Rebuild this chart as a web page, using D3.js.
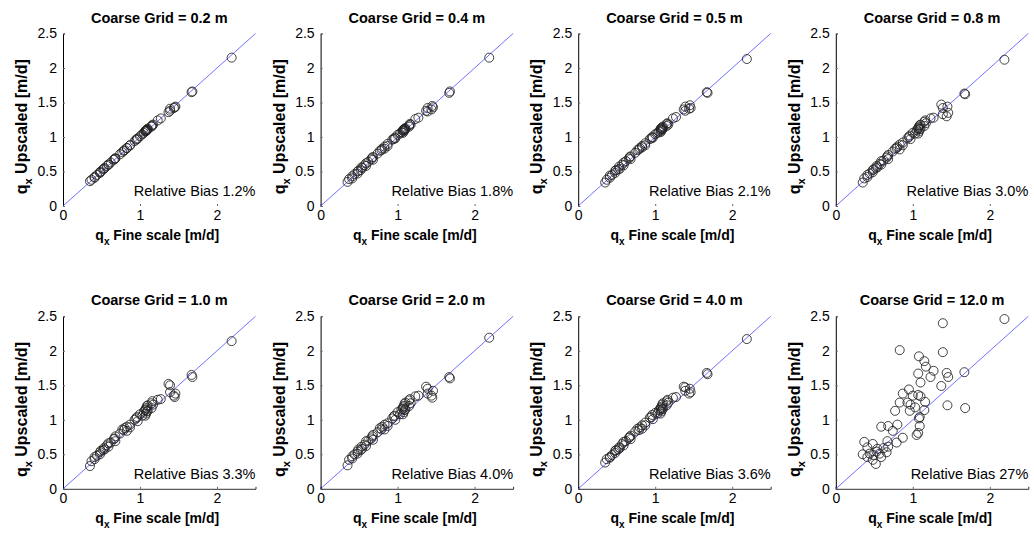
<!DOCTYPE html>
<html>
<head>
<meta charset="utf-8">
<script src="https://cdn.jsdelivr.net/npm/d3@7"></script>
<style>
  body { margin: 0; background: #fff; }
  text { font-family: "Liberation Sans", Arial, sans-serif; fill: #000; }
</style>
</head>
<body>
<svg id="chart" width="1034" height="535"></svg>
<script>
// fine-scale flux (same cells in every panel)
var fineQ = [0.35,0.37,0.41,0.41,0.44,0.48,0.48,0.49,0.52,0.53,0.54,0.57,0.59,0.59,0.62,0.66,0.67,0.68,0.68,0.74,
  0.77,0.79,0.80,0.83,0.83,0.87,0.87,0.93,0.95,0.96,0.97,1.00,1.03,1.05,1.07,1.07,1.07,1.08,1.08,1.09,
  1.09,1.10,1.10,1.15,1.15,1.16,1.17,1.23,1.27,1.37,1.39,1.39,1.44,1.45,1.46,1.67,1.68,2.19];

// upscaled flux for each coarse grid
var up02 = [0.36,0.38,0.42,0.41,0.45,0.49,0.48,0.50,0.53,0.54,0.55,0.58,0.60,0.60,0.63,0.67,0.68,0.69,0.69,0.75,
  0.78,0.80,0.81,0.84,0.84,0.88,0.88,0.94,0.96,0.97,0.98,1.01,1.04,1.06,1.08,1.08,1.09,1.09,1.10,1.10,
  1.11,1.11,1.12,1.15,1.16,1.17,1.18,1.24,1.27,1.36,1.38,1.41,1.42,1.43,1.44,1.65,1.66,2.15];
var up04 = [0.35,0.39,0.43,0.40,0.46,0.50,0.47,0.51,0.52,0.56,0.55,0.59,0.62,0.58,0.64,0.68,0.70,0.67,0.71,0.76,
  0.80,0.81,0.83,0.86,0.83,0.90,0.87,0.96,0.97,0.99,0.98,1.03,1.05,1.07,1.10,1.06,1.09,1.11,1.08,1.12,
  1.10,1.13,1.11,1.17,1.15,1.19,1.18,1.26,1.28,1.38,1.37,1.42,1.40,1.45,1.43,1.64,1.66,2.15];
var up05 = [0.34,0.38,0.44,0.41,0.45,0.51,0.48,0.52,0.53,0.57,0.54,0.60,0.63,0.59,0.65,0.69,0.71,0.68,0.72,0.77,
  0.81,0.82,0.84,0.87,0.85,0.91,0.88,0.97,0.98,1.00,0.99,1.04,1.06,1.08,1.12,1.07,1.10,1.13,1.09,1.14,
  1.11,1.15,1.12,1.19,1.16,1.20,1.18,1.27,1.29,1.40,1.38,1.44,1.41,1.46,1.42,1.65,1.64,2.13];
var up08 = [0.34,0.40,0.45,0.42,0.47,0.52,0.49,0.53,0.55,0.58,0.56,0.61,0.65,0.60,0.66,0.70,0.72,0.68,0.74,0.79,
  0.83,0.84,0.86,0.89,0.82,0.92,0.88,0.98,1.00,1.02,0.97,1.06,1.05,1.10,1.13,1.05,1.12,1.15,1.08,1.17,
  1.11,1.18,1.12,1.22,1.16,1.24,1.20,1.27,1.28,1.47,1.33,1.42,1.30,1.44,1.35,1.63,1.62,2.12];
var up10 = [0.33,0.40,0.46,0.43,0.48,0.53,0.50,0.55,0.56,0.59,0.57,0.63,0.66,0.61,0.67,0.72,0.73,0.69,0.76,0.80,
  0.86,0.85,0.88,0.90,0.84,0.93,0.89,1.00,1.02,1.04,0.98,1.08,1.06,1.12,1.15,1.06,1.14,1.17,1.09,1.20,
  1.12,1.21,1.13,1.24,1.17,1.27,1.22,1.29,1.30,1.52,1.50,1.40,1.35,1.33,1.38,1.65,1.62,2.14];
var up20 = [0.34,0.42,0.47,0.44,0.50,0.54,0.51,0.57,0.56,0.61,0.58,0.64,0.69,0.62,0.70,0.73,0.76,0.71,0.78,0.82,
  0.88,0.86,0.90,0.93,0.86,0.95,0.91,1.02,1.05,1.06,1.00,1.11,1.08,1.15,1.18,1.08,1.16,1.20,1.11,1.23,
  1.14,1.25,1.15,1.28,1.20,1.30,1.24,1.34,1.35,1.48,1.45,1.38,1.35,1.32,1.42,1.62,1.60,2.19];
var up40 = [0.38,0.43,0.46,0.45,0.49,0.55,0.52,0.56,0.57,0.60,0.59,0.65,0.68,0.63,0.69,0.74,0.75,0.72,0.77,0.83,
  0.87,0.85,0.89,0.92,0.87,0.96,0.92,1.03,1.04,1.07,1.01,1.10,1.09,1.14,1.17,1.09,1.15,1.19,1.12,1.22,
  1.15,1.24,1.16,1.27,1.21,1.29,1.25,1.32,1.33,1.48,1.47,1.42,1.38,1.45,1.40,1.68,1.66,2.17];
var up120 = [0.50,0.68,0.60,0.46,0.51,0.65,0.42,0.49,0.36,0.54,0.58,0.51,0.90,0.46,0.59,0.53,0.69,0.91,0.61,0.84,
  1.13,0.67,0.93,2.01,1.25,1.38,0.74,1.25,1.44,1.13,1.22,1.35,1.18,0.78,1.67,1.36,0.81,1.92,1.02,1.04,
  0.91,1.54,1.34,1.85,1.14,1.26,1.77,1.62,1.71,1.49,2.40,1.98,1.68,1.21,1.62,1.69,1.17,2.46];

var gridSizes = ["0.2", "0.4", "0.5", "0.8", "1.0", "2.0", "4.0", "12.0"];
var biasLabels = ["1.2%", "1.8%", "2.1%", "3.0%", "3.3%", "4.0%", "3.6%", "27%"];
var upSeries = [up02, up04, up05, up08, up10, up20, up40, up120];
var xTicks = [0, 1, 2];
var yTicks = [0, 0.5, 1, 1.5, 2, 2.5];

upSeries.forEach(function(s, i) {
  if (s.length != fineQ.length) throw new Error("series " + i + " has " + s.length + " values");
});

var svg = d3.select("#chart");
var pw = 192.5, ph = 172.5;
var x = d3.scaleLinear().domain([0, 2.5]).range([0, pw]);
var y = d3.scaleLinear().domain([0, 2.5]).range([ph, 0]);

gridSizes.forEach(function(g, i) {
  var col = i % 4, row = Math.floor(i / 4);
  var left = 63 + col * 257.6, top = 33.5 + row * 282.8;
  var p = svg.append("g").attr("transform", "translate(" + left + "," + top + ")");

  // x axis (line hidden on the top row, as in the original)
  var xa = p.append("g").attr("transform", "translate(0," + ph + ")")
    .call(d3.axisBottom(x).tickValues(xTicks).tickSize(-2).tickPadding(4).tickFormat(d3.format("d")));
  xa.select(".domain").attr("stroke", row == 0 ? "none" : "#333");
  xa.selectAll(".tick line").attr("stroke", "#666");
  xa.selectAll(".tick text").style("font-size", "14px").attr("fill", "#000");

  var ya = p.append("g")
    .call(d3.axisLeft(y).tickValues(yTicks).tickSize(-2).tickPadding(6).tickFormat(d3.format("")));
  ya.select(".domain").attr("stroke", "#000");
  ya.selectAll(".tick line").attr("stroke", "#666");
  ya.selectAll(".tick text").style("font-size", "14px").attr("fill", "#000");

  // 1:1 line
  p.append("line")
    .attr("x1", x(0)).attr("y1", y(0)).attr("x2", x(2.5)).attr("y2", y(2.5))
    .attr("stroke", "#4d4dff").attr("stroke-width", 0.8);

  p.selectAll("circle.pt").data(d3.zip(fineQ, upSeries[i])).enter()
    .append("circle").attr("class", "pt")
    .attr("cx", function(d) { return x(d[0]); })
    .attr("cy", function(d) { return y(d[1]); })
    .attr("r", 4.5)
    .attr("fill", "none").attr("stroke", "#222").attr("stroke-width", 0.85);

  p.append("text").attr("x", pw / 2).attr("y", -11).attr("text-anchor", "middle")
    .style("font-size", "14.5px").style("font-weight", "bold")
    .text("Coarse Grid = " + g + " m");

  p.append("text").attr("x", pw).attr("y", ph - 10).attr("text-anchor", "end")
    .style("font-size", "14.5px")
    .text("Relative Bias " + biasLabels[i]);

  var xl = p.append("text").attr("x", pw / 2 - 2).attr("y", ph + 34).attr("text-anchor", "middle")
    .style("font-size", "14px").style("font-weight", "bold");
  xl.append("tspan").text("q");
  xl.append("tspan").attr("dy", 5).style("font-size", "10px").text("x");
  xl.append("tspan").attr("dy", -5).text(" Fine scale [m/d]");

  var yl = p.append("text").attr("transform", "translate(-36," + (ph / 2 + 7) + ") rotate(-90)")
    .attr("text-anchor", "middle")
    .style("font-size", "16px").style("font-weight", "bold");
  yl.append("tspan").text("q");
  yl.append("tspan").attr("dy", 5).style("font-size", "11px").text("x");
  yl.append("tspan").attr("dy", -5).text(" Upscaled [m/d]");
});
</script>
</body>
</html>
